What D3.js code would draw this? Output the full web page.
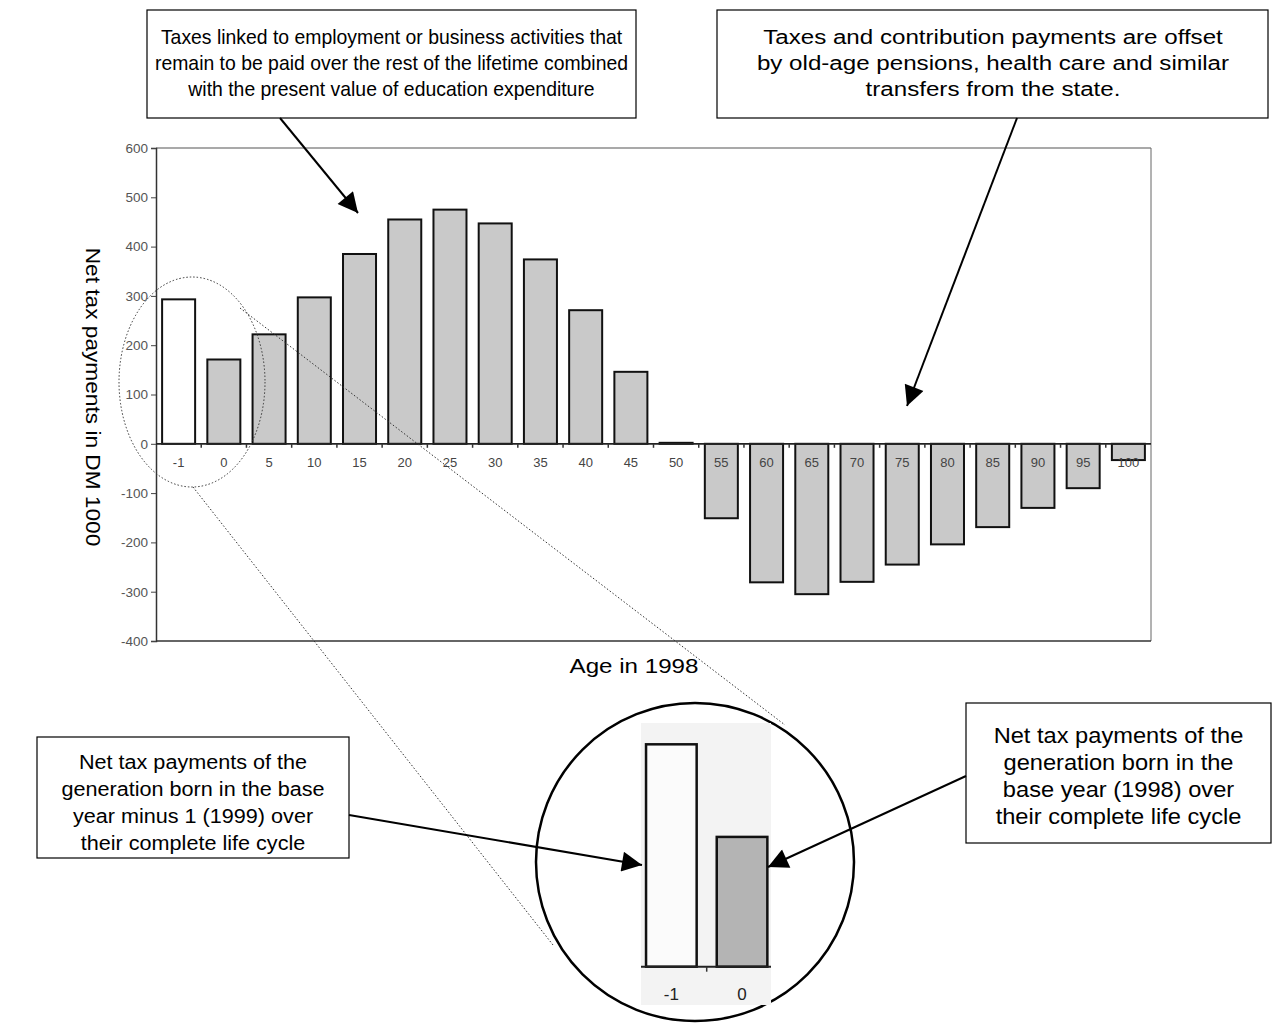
<!DOCTYPE html>
<html><head><meta charset="utf-8">
<script src="https://cdn.jsdelivr.net/npm/d3@7"></script>
<style>body{margin:0;background:#fff}svg{display:block}</style>
</head><body>
<svg id="c" width="1273" height="1025"></svg>
<script>
// ---- data ----
const ages = ["-1","0","5","10","15","20","25","30","35","40","45","50","55","60","65","70","75","80","85","90","95","100"];
const netTax = [293,171,222,297,385,455,475,447,374,271,146,2,-151,-281,-305,-280,-245,-204,-169,-130,-90,-33];
const yTicks = [600,500,400,300,200,100,0,-100,-200,-300,-400];
const insetAges = ["-1","0"];
const noteTopLeft = ["Taxes linked to employment or business activities that","remain to be paid over the rest of the lifetime combined","with the present value of education expenditure"];
const noteTopRight = ["Taxes and contribution payments are offset","by old-age pensions, health care and similar","transfers from the state."];
const noteBottomLeft = ["Net tax payments of the","generation born in the base","year minus 1 (1999) over","their complete life cycle"];
const noteBottomRight = ["Net tax payments of the","generation born in the","base year (1998) over","their complete life cycle"];
const yTitle = "Net tax payments in DM 1000";
const xTitle = "Age in 1998";

const svg = d3.select("#c");
const FONT = "'Liberation Sans', Arial, sans-serif";

const defs = svg.append("defs");
defs.append("marker").attr("id","ah").attr("viewBox","0 0 10 10").attr("refX",10).attr("refY",5)
  .attr("markerUnits","userSpaceOnUse").attr("markerWidth",22).attr("markerHeight",20).attr("orient","auto")
  .append("path").attr("d","M0,0 L10,5 L0,10 Z").attr("fill","#000");

// ---- main chart ----
const L=156,R=1151,T=148,B=641;
const x = d3.scaleBand().domain(ages).range([L,R]).paddingInner(0.27).paddingOuter(0.135);
const y = d3.scaleLinear().domain([-400,600]).range([B,T]);

// frame
svg.append("line").attr("x1",L).attr("x2",R).attr("y1",T).attr("y2",T).attr("stroke","#555").attr("stroke-width",1.2);
svg.append("line").attr("x1",R).attr("x2",R).attr("y1",T).attr("y2",B).attr("stroke","#666").attr("stroke-width",1);
svg.append("line").attr("x1",L).attr("x2",R).attr("y1",B).attr("y2",B).attr("stroke","#333").attr("stroke-width",1.5);

// y axis
const yAxis = d3.axisLeft(y).tickValues(yTicks).tickSize(5).tickPadding(3).tickFormat(d=>String(d));
const ya = svg.append("g").attr("transform",`translate(${L},0)`).call(yAxis);
ya.select(".domain").attr("stroke","#333").attr("stroke-width",1.5);
ya.selectAll(".tick line").attr("stroke","#444");
ya.selectAll(".tick text").attr("font-family",FONT).attr("font-size",13.5).attr("fill","#555");

// bars
svg.append("g").selectAll("rect").data(ages).join("rect")
  .attr("x",d=>x(d)).attr("width",x.bandwidth())
  .attr("y",(d,i)=>y(Math.max(0,netTax[i])))
  .attr("height",(d,i)=>Math.abs(y(netTax[i])-y(0)))
  .attr("fill",(d,i)=>i===0?"#fff":"#c9c9c9")
  .attr("stroke","#111").attr("stroke-width",2);

// zero line and x ticks at band boundaries
svg.append("line").attr("x1",L).attr("x2",R).attr("y1",y(0)).attr("y2",y(0)).attr("stroke","#222").attr("stroke-width",1.8);
svg.append("g").selectAll("line").data(ages.slice(1)).join("line")
  .attr("x1",d=>x(d)-x.step()*x.paddingInner()/2).attr("x2",d=>x(d)-x.step()*x.paddingInner()/2)
  .attr("y1",y(0)).attr("y2",y(0)+4).attr("stroke","#333").attr("stroke-width",1.5);
svg.append("g").selectAll("text").data(ages).join("text")
  .attr("x",d=>x(d)+x.bandwidth()/2).attr("y",y(0)+23).attr("text-anchor","middle")
  .attr("font-family",FONT).attr("font-size",13).attr("fill","#444").text(d=>d);

// axis titles
svg.append("text").attr("transform",`translate(86,397) rotate(90) scale(1.08,1)`).attr("text-anchor","middle")
  .attr("font-family",FONT).attr("font-size",21).attr("fill","#000").text(yTitle);
svg.append("text").attr("transform",`translate(634,673) scale(1.15,1)`).attr("text-anchor","middle")
  .attr("font-family",FONT).attr("font-size",21).attr("fill","#000").text(xTitle);

// dotted ellipse + connectors
svg.append("ellipse").attr("cx",192).attr("cy",382).attr("rx",73).attr("ry",105)
  .attr("fill","none").attr("stroke","#333").attr("stroke-width",1).attr("stroke-dasharray","1.5,2");
svg.append("line").attr("x1",240).attr("y1",308).attr("x2",785).attr("y2",725)
  .attr("stroke","#333").attr("stroke-width",1).attr("stroke-dasharray","1.5,2");
svg.append("line").attr("x1",193).attr("y1",487).attr("x2",553).attr("y2",945)
  .attr("stroke","#333").attr("stroke-width",1).attr("stroke-dasharray","1.5,2");

// ---- inset ----
const cx=695, cy=862, cr=159;
svg.append("circle").attr("cx",cx).attr("cy",cy).attr("r",cr).attr("fill","#fff").attr("stroke","#000").attr("stroke-width",2.5);
svg.append("rect").attr("x",641).attr("y",723).attr("width",130).attr("height",282).attr("fill","#f3f3f3");
const xi = d3.scaleBand().domain(insetAges).range([641.8,771.6]).paddingInner(0.284).paddingOuter(0.06);
const yi = d3.scaleLinear().domain([0,300]).range([966.7,966.7-300*0.759]);
svg.append("g").selectAll("rect").data(insetAges).join("rect")
  .attr("x",d=>xi(d)).attr("width",xi.bandwidth())
  .attr("y",(d,i)=>yi(netTax[i])).attr("height",(d,i)=>yi(0)-yi(netTax[i]))
  .attr("fill",(d,i)=>i===0?"#fbfbfb":"#b4b4b4").attr("stroke","#111").attr("stroke-width",2.5);
svg.append("line").attr("x1",641).attr("x2",771).attr("y1",yi(0)).attr("y2",yi(0)).attr("stroke","#222").attr("stroke-width",2);
svg.append("line").attr("x1",xi("0")-xi.step()*xi.paddingInner()/2).attr("x2",xi("0")-xi.step()*xi.paddingInner()/2)
  .attr("y1",yi(0)).attr("y2",yi(0)+5).attr("stroke","#333").attr("stroke-width",1.5);
svg.append("g").selectAll("text").data(insetAges).join("text")
  .attr("x",d=>xi(d)+xi.bandwidth()/2).attr("y",yi(0)+33).attr("text-anchor","middle")
  .attr("font-family",FONT).attr("font-size",17).attr("fill","#222").text(d=>d);

// ---- annotation boxes ----
function box(x0,y0,w,h,lines,cxText,firstBase,lh,fs,sx){
  svg.append("rect").attr("x",x0).attr("y",y0).attr("width",w).attr("height",h)
    .attr("fill","#fff").attr("stroke","#000").attr("stroke-width",1.2);
  svg.append("g").selectAll("text").data(lines).join("text")
    .attr("transform",(d,i)=>`translate(${cxText},${firstBase+i*lh}) scale(${sx},1)`)
    .attr("text-anchor","middle")
    .attr("font-family",FONT).attr("font-size",fs).attr("fill","#000").text(d=>d);
}
box(147,10,489,108,noteTopLeft,391.5,43.5,26,20,0.97);
box(717,10,551,108,noteTopRight,993,43.5,26,21,1.15);
box(37,737,312,121,noteBottomLeft,193,769,27,21,1.03);
box(966,703,305,140,noteBottomRight,1118.5,743,27,21.5,1.1);

// arrows
function arrow(x1,y1,x2,y2){
  svg.append("line").attr("x1",x1).attr("y1",y1).attr("x2",x2).attr("y2",y2)
    .attr("stroke","#000").attr("stroke-width",2).attr("marker-end","url(#ah)");
}
arrow(280,118,358,213);
arrow(1017,118,907,406);
arrow(349,815,642,865);
arrow(966,776,768,867);
</script>
</body></html>
